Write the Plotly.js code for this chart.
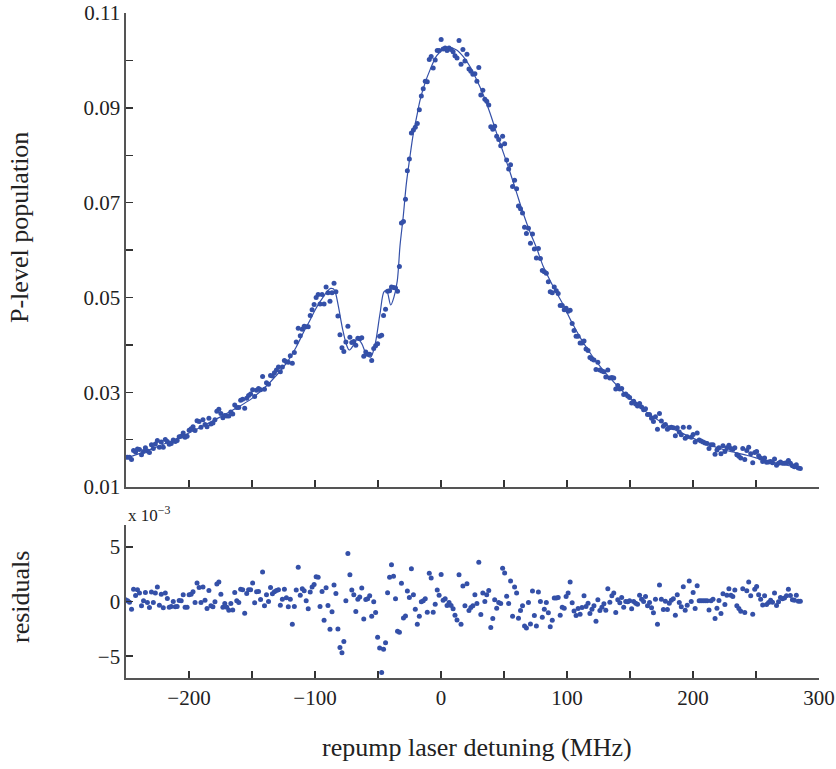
<!DOCTYPE html>
<html>
<head>
<meta charset="utf-8">
<script src="https://cdn.plot.ly/plotly-3.0.1.min.js"></script>
<style>html,body{margin:0;padding:0;background:#fff;}#chart{width:836px;height:769px;}</style>
</head>
<body>
<div id="chart"></div>
<script>
// repump laser detuning (MHz) of each measured point
const detuning = [
-250.3,-248.7,-247.2,-245.6,-244.0,-242.4,-240.9,-239.3,-237.7,-236.1,-234.6,-233.0,
-231.4,-229.8,-228.3,-226.7,-225.1,-223.5,-222.0,-220.4,-218.8,-217.2,-215.7,-214.1,
-212.5,-210.9,-209.4,-207.8,-206.2,-204.6,-203.1,-201.5,-199.9,-198.3,-196.8,-195.2,
-193.6,-192.0,-190.5,-188.9,-187.3,-185.7,-184.2,-182.6,-181.0,-179.4,-177.9,-176.3,
-174.7,-173.1,-171.6,-170.0,-168.4,-166.8,-165.3,-163.7,-162.1,-160.5,-159.0,-157.4,
-155.8,-154.2,-152.7,-151.1,-149.5,-147.9,-146.4,-144.8,-143.2,-141.6,-140.1,-138.5,
-136.9,-135.3,-133.8,-132.2,-130.6,-129.0,-127.5,-125.9,-124.3,-122.7,-121.2,-119.6,
-118.0,-116.4,-114.9,-113.3,-111.7,-110.1,-108.6,-107.0,-105.4,-103.8,-102.3,-100.7,
-99.1,-97.5,-96.0,-94.4,-92.8,-91.2,-89.7,-88.1,-86.5,-84.9,-83.4,-81.8,
-80.2,-78.6,-77.1,-75.5,-73.9,-72.3,-70.8,-69.2,-67.6,-66.0,-64.5,-62.9,
-61.3,-59.7,-58.2,-56.6,-55.0,-53.4,-51.9,-50.3,-48.7,-47.1,-45.6,-44.0,
-42.4,-40.8,-39.3,-37.7,-36.1,-34.5,-33.0,-31.4,-29.8,-28.2,-26.7,-25.1,
-23.5,-21.9,-20.4,-18.8,-17.2,-15.6,-14.1,-12.5,-10.9,-9.3,-7.8,-6.2,
-4.6,-3.0,-1.5,0.1,1.7,3.3,4.8,6.4,8.0,9.6,11.1,12.7,
14.3,15.9,17.4,19.0,20.6,22.2,23.7,25.3,26.9,28.5,30.0,31.6,
33.2,34.8,36.3,37.9,39.5,41.1,42.6,44.2,45.8,47.4,48.9,50.5,
52.1,53.7,55.2,56.8,58.4,60.0,61.5,63.1,64.7,66.3,67.8,69.4,
71.0,72.6,74.1,75.7,77.3,78.9,80.4,82.0,83.6,85.2,86.7,88.3,
89.9,91.5,93.0,94.6,96.2,97.8,99.3,100.9,102.5,104.1,105.6,107.2,
108.8,110.4,111.9,113.5,115.1,116.7,118.2,119.8,121.4,123.0,124.5,126.1,
127.7,129.3,130.8,132.4,134.0,135.6,137.1,138.7,140.3,141.9,143.4,145.0,
146.6,148.2,149.7,151.3,152.9,154.5,156.0,157.6,159.2,160.8,162.3,163.9,
165.5,167.1,168.6,170.2,171.8,173.4,174.9,176.5,178.1,179.7,181.2,182.8,
184.4,186.0,187.5,189.1,190.7,192.3,193.8,195.4,197.0,198.6,200.1,201.7,
203.3,204.9,206.4,208.0,209.6,211.2,212.7,214.3,215.9,217.5,219.0,220.6,
222.2,223.8,225.3,226.9,228.5,230.1,231.6,233.2,234.8,236.4,237.9,239.5,
241.1,242.7,244.2,245.8,247.4,249.0,250.5,252.1,253.7,255.3,256.8,258.4,
260.0,261.6,263.1,264.7,266.3,267.9,269.4,271.0,272.6,274.2,275.7,277.3,
278.9,280.5,282.0,283.6,285.2
];

// measured P-level population at each detuning
const population = [
0.0163,0.0163,0.0163,0.0158,0.0177,0.0174,0.0180,0.0179,0.0168,0.0175,0.0183,0.0176,
0.0173,0.0189,0.0181,0.0191,0.0198,0.0184,0.0195,0.0184,0.0200,0.0196,0.0190,0.0192,
0.0199,0.0196,0.0198,0.0206,0.0207,0.0214,0.0205,0.0207,0.0220,0.0223,0.0227,0.0219,
0.0240,0.0238,0.0226,0.0242,0.0232,0.0227,0.0245,0.0233,0.0235,0.0242,0.0260,0.0264,
0.0255,0.0246,0.0251,0.0250,0.0250,0.0258,0.0254,0.0273,0.0268,0.0268,0.0283,0.0285,
0.0266,0.0287,0.0293,0.0296,0.0305,0.0291,0.0304,0.0308,0.0305,0.0333,0.0306,0.0320,
0.0317,0.0335,0.0334,0.0341,0.0347,0.0353,0.0343,0.0353,0.0367,0.0364,0.0363,0.0377,
0.0361,0.0384,0.0406,0.0435,0.0419,0.0433,0.0439,0.0438,0.0438,0.0462,0.0474,0.0485,
0.0500,0.0506,0.0486,0.0506,0.0486,0.0522,0.0510,0.0492,0.0510,0.0530,0.0512,0.0461,
0.0421,0.0394,0.0386,0.0406,0.0439,0.0416,0.0405,0.0407,0.0399,0.0414,0.0413,0.0415,
0.0376,0.0385,0.0380,0.0380,0.0367,0.0392,0.0398,0.0402,0.0418,0.0420,0.0462,0.0475,
0.0513,0.0514,0.0522,0.0521,0.0520,0.0513,0.0565,0.0657,0.0660,0.0707,0.0767,0.0792,
0.0847,0.0853,0.0859,0.0867,0.0896,0.0925,0.0940,0.0956,0.0955,0.1002,0.1008,0.0984,
0.1001,0.1021,0.1021,0.1044,0.1024,0.1026,0.1021,0.1026,0.1023,0.1018,0.1010,0.1005,
0.1042,0.0992,0.1023,0.0999,0.1013,0.0982,0.0977,0.0971,0.0972,0.0956,0.0985,0.0927,
0.0937,0.0918,0.0914,0.0906,0.0860,0.0855,0.0861,0.0840,0.0833,0.0820,0.0840,0.0824,
0.0790,0.0771,0.0780,0.0734,0.0747,0.0729,0.0693,0.0687,0.0678,0.0648,0.0635,0.0646,
0.0614,0.0634,0.0602,0.0583,0.0603,0.0582,0.0557,0.0554,0.0551,0.0533,0.0512,0.0510,
0.0522,0.0514,0.0508,0.0483,0.0483,0.0474,0.0477,0.0471,0.0473,0.0445,0.0430,0.0418,
0.0418,0.0404,0.0404,0.0408,0.0391,0.0388,0.0373,0.0370,0.0368,0.0348,0.0363,0.0347,
0.0345,0.0343,0.0332,0.0347,0.0330,0.0331,0.0330,0.0307,0.0314,0.0307,0.0308,0.0295,
0.0296,0.0292,0.0289,0.0277,0.0281,0.0275,0.0271,0.0276,0.0269,0.0263,0.0265,0.0253,
0.0253,0.0245,0.0238,0.0248,0.0222,0.0255,0.0239,0.0228,0.0232,0.0222,0.0225,0.0226,
0.0225,0.0208,0.0225,0.0216,0.0210,0.0226,0.0203,0.0206,0.0226,0.0205,0.0211,0.0195,
0.0214,0.0199,0.0197,0.0195,0.0193,0.0192,0.0181,0.0189,0.0189,0.0169,0.0178,0.0183,
0.0170,0.0187,0.0175,0.0183,0.0188,0.0181,0.0179,0.0183,0.0168,0.0165,0.0161,0.0181,
0.0158,0.0177,0.0184,0.0170,0.0151,0.0173,0.0175,0.0166,0.0161,0.0154,0.0161,0.0152,
0.0153,0.0154,0.0151,0.0159,0.0146,0.0150,0.0153,0.0150,0.0150,0.0151,0.0156,0.0150,
0.0145,0.0143,0.0147,0.0140,0.0139
];

// fit residuals (units of 1e-3)
const residuals = [
0.15,0.06,-0.06,-0.7,1.13,0.55,1.07,0.77,-0.4,0.06,0.83,-0.09,
-0.55,0.86,-0.09,0.77,1.32,-0.34,0.67,-0.58,0.77,0.28,-0.52,-0.46,
0,-0.49,-0.46,0.09,0.06,0.61,-0.52,-0.52,0.61,0.67,0.89,-0.09,
1.69,1.29,-0.09,1.32,0.12,-0.64,1.01,-0.4,-0.49,-0.03,1.6,1.78,
0.67,-0.52,-0.18,-0.52,-0.8,-0.18,-0.77,0.83,0.06,-0.09,1.13,1.07,
-1.07,0.74,1.07,1.07,1.69,-0.12,0.89,0.92,0.18,2.7,-0.4,0.61,
0,1.29,0.71,0.89,1.01,1.07,-0.34,0.21,1.13,0.34,-0.49,0.21,
-2.09,-0.46,1.04,3.13,0.58,1.17,0.98,0.06,-0.67,0.86,1.32,1.56,
2.27,2.21,-0.46,0.92,-1.72,1.26,-0.37,-2.55,-0.95,1.5,0.74,-2.52,
-4.2,-4.69,-3.65,0.06,4.39,2.45,1.04,0.61,-0.92,0.21,0.4,1.23,
-1.6,0.18,0.25,0.52,-1.35,-0.03,-1.01,-3.28,-4.26,-6.5,-4.36,-3.77,
0.8,2.21,3.37,2.3,0.25,-2.73,-2.82,1.66,-1.5,-1.32,0.95,0.37,
3.0,0.61,-0.71,-2.09,-1.35,-0.03,0.06,0.25,-0.98,2.58,2.15,-0.98,
-0.25,1.04,0.58,2.48,0.12,0.25,-0.37,-0.09,-0.37,-0.67,-1.26,-1.69,
2.45,-2.09,1.41,-0.4,1.63,-0.83,-0.55,-0.4,0.61,-0.18,3.59,-1.2,
0.77,0,0.61,1.01,-2.39,-1.56,0.15,-0.61,-0.09,-0.18,3.04,2.61,
0.49,-0.18,1.87,-1.35,1.32,0.77,-1.53,-0.83,-0.4,-2.24,-2.42,-0.09,
-2.06,0.95,-1.29,-2.24,0.86,0,-1.44,-0.71,-0.09,-1.04,-2.3,-1.72,
0.31,0.31,0.37,-1.26,-0.52,-0.61,0.46,0.77,1.78,-0.12,-0.86,-1.29,
-0.64,-1.17,-0.55,0.52,-0.46,-0.15,-1.1,-0.71,-0.4,-1.81,0.15,-0.83,
-0.52,-0.21,-0.8,1.17,-0.06,0.52,0.77,-1.01,0.15,-0.12,0.37,-0.52,
0,-0.03,0.06,-0.67,0,-0.15,-0.25,0.58,0.21,0,0.46,-0.4,
-0.09,-0.58,-1.04,0.21,-2.09,1.5,0.21,-0.74,0.03,-0.74,-0.15,0.12,
0.25,-1.26,0.61,-0.09,-0.49,1.35,-0.8,-0.34,1.87,0,0.83,-0.64,
1.44,0.06,0.06,0.06,0.06,0.06,-0.77,0.06,0.21,-1.56,-0.61,0.09,
-1.1,0.71,-0.28,0.58,1.17,0.58,0.46,1.04,-0.4,-0.64,-0.89,1.17,
-1.01,0.98,1.78,0.52,-1.17,1.13,1.38,0.61,0.21,-0.31,0.52,-0.28,
-0.09,0.12,-0.06,0.77,-0.37,-0.03,0.37,0.25,0.31,0.52,1.13,0.55,
0.15,0.12,0.58,0.03,0.03
];

// fitted model curve
const fitDetuning = [-250,-240,-228,-215,-200,-188,-175,-162,-150,-136,-122.5,-115,-109,-104,-100,
-96.5,-93.4,-90.5,-87.6,-85.5,-84,-81.5,-78,-75,-72.8,-69.6,-66.4,-63,-59,-55.8,
-52.4,-48.4,-45.2,-43.1,-39.9,-37.3,-34.7,-32.5,-30,-27.5,-25,-22,-19,-16.7,-12.7,
-8.7,-3.4,1.8,7.1,12.4,17.7,23,28.3,33.6,38.9,44.2,49.4,54.8,60.1,65.3,
70.6,76,81.2,89.2,97.1,103.7,111.7,119.6,128.8,139.4,150,163.2,179.1,195,210.9,
226.7,242.6,258.5,274.4,285];
const fitPopulation = [0.0161,0.0170,0.0182,0.0196,0.0214,0.0230,0.0248,0.0267,0.0287,0.0320,0.0362,0.0395,0.0427,0.0452,0.0473,
0.0489,0.0501,0.0512,0.0519,0.0518,0.0512,0.0482,0.0432,0.0400,0.0389,0.0399,0.0413,0.0403,0.0379,0.0374,
0.0400,0.0466,0.0512,0.0514,0.0484,0.0501,0.0535,0.0610,0.0670,0.0740,0.0790,0.0845,0.0885,0.0915,0.0952,
0.0980,0.1010,0.1023,0.1027,0.1022,0.1008,0.0987,0.0959,0.0927,0.0889,0.0846,0.0806,0.0764,0.0720,0.0677,
0.0638,0.0603,0.0565,0.0522,0.0484,0.0448,0.0410,0.0378,0.0346,0.0315,0.0287,0.0258,0.0230,0.0209,0.0191,
0.0177,0.0167,0.0155,0.0146,0.0139];

// axis ticks (labelled ticks; unlabelled ticks sit halfway between them)
const xTickVals = [-200,-100,0,100,200,300];
const xTickText = ['\u2212200','\u2212100','0','100','200','300'];
const yTopTickVals = [0.01,0.03,0.05,0.07,0.09,0.11];
const yTopTickText = ['0.01','0.03','0.05','0.07','0.09','0.11'];
const yResTickVals = [-5,0,5];
const yResTickText = ['\u22125','0','5'];

const blue = '#3450a8';
const fontFam = '"Liberation Serif", "Times New Roman", serif';
const tickStyle = {ticks: 'inside', ticklen: 7, tickwidth: 1.4, tickcolor: '#333'};
const axisCommon = Object.assign({
  showgrid: false, zeroline: false, showline: true,
  linecolor: '#555', linewidth: 1.6,
  tickfont: {family: fontFam, size: 21, color: '#222'}
}, tickStyle);
const xMinor = Object.assign({tick0: -250, dtick: 50}, tickStyle);
const yTopMinor = Object.assign({tick0: 0.01, dtick: 0.01}, tickStyle);

const traces = [
  {x: detuning, y: population, xaxis: 'x2', yaxis: 'y2', type: 'scatter', mode: 'markers',
   marker: {color: blue, size: 5}, hoverinfo: 'x+y'},
  {x: fitDetuning, y: fitPopulation, xaxis: 'x2', yaxis: 'y2', type: 'scatter', mode: 'lines',
   line: {color: blue, width: 1.2, shape: 'spline', smoothing: 0.9}},
  {x: detuning, y: residuals, xaxis: 'x', yaxis: 'y', type: 'scatter', mode: 'markers',
   marker: {color: blue, size: 5}}
];

const layout = {
  width: 836, height: 769,
  margin: {l: 126, r: 17, t: 13, b: 91},
  paper_bgcolor: '#fff', plot_bgcolor: '#fff',
  showlegend: false,
  font: {family: fontFam, color: '#222'},
  xaxis: Object.assign({}, axisCommon, {domain: [0, 1], anchor: 'y', range: [-250, 300],
    tickmode: 'array', tickvals: xTickVals, ticktext: xTickText, minor: xMinor}),
  xaxis2: Object.assign({}, axisCommon, {domain: [0, 1], anchor: 'y2', matches: 'x', range: [-250, 300],
    tickmode: 'array', tickvals: xTickVals, showticklabels: false, minor: xMinor}),
  yaxis: Object.assign({}, axisCommon, {domain: [0, 0.2301], anchor: 'x', range: [-7, 7],
    tickmode: 'array', tickvals: yResTickVals, ticktext: yResTickText}),
  yaxis2: Object.assign({}, axisCommon, {domain: [0.2872, 1], anchor: 'x2', range: [0.01, 0.11],
    tickmode: 'array', tickvals: yTopTickVals, ticktext: yTopTickText, minor: yTopMinor}),
  annotations: [
    {text: 'P-level population', xref: 'paper', yref: 'paper', x: 0, y: 0.6767,
     xshift: -106, textangle: -90, showarrow: false, xanchor: 'center', yanchor: 'middle',
     font: {family: fontFam, size: 26, color: '#222'}},
    {text: 'residuals', xref: 'paper', yref: 'paper', x: 0, y: 0.1218,
     xshift: -106, textangle: -90, showarrow: false, xanchor: 'center', yanchor: 'middle',
     font: {family: fontFam, size: 26, color: '#222'}},
    {text: 'repump laser detuning (MHz)', xref: 'paper', yref: 'paper', x: 0.5065, y: -0.1038,
     showarrow: false, xanchor: 'center', yanchor: 'middle',
     font: {family: fontFam, size: 26, color: '#222'}},
    {text: 'x 10<sup>\u22123</sup>', xref: 'paper', yref: 'paper', x: 0, y: 0.2466,
     showarrow: false, xanchor: 'left', yanchor: 'middle',
     font: {family: fontFam, size: 17, color: '#222'}}
  ]
};

Plotly.newPlot('chart', traces, layout, {displayModeBar: false, staticPlot: true});
</script>
</body>
</html>
